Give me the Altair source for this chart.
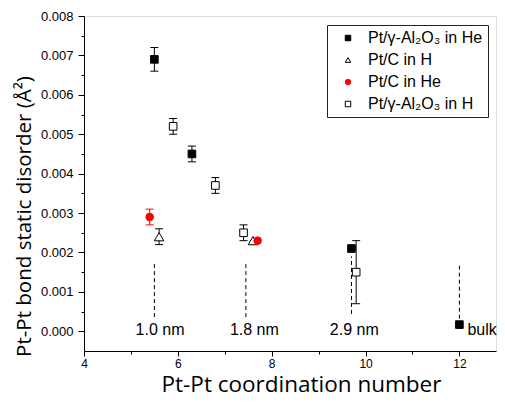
import altair as alt
import pandas as pd

# ---- data ----
S_ALU_HE = "Pt/γ-Al₂O₃ in He"
S_C_H = "Pt/C in H"
S_C_HE = "Pt/C in He"
S_ALU_H = "Pt/γ-Al₂O₃ in H"
series_order = [S_ALU_HE, S_C_H, S_C_HE, S_ALU_H]

alu_h_cn = [5.9, 6.8, 7.4, 9.8]
alu_h_sig = [0.0052, 0.0037, 0.0025, 0.0015]
alu_h_err = [0.0002, 0.0002, 0.0002, 0.0008]

c_h_cn = [5.6, 7.6]
c_h_sig = [0.0024, 0.0023]
c_h_err = [0.0002, 0.0]

c_he_cn = [5.4, 7.7]
c_he_sig = [0.0029, 0.0023]
c_he_err = [0.0002, 0.0]

alu_he_cn = [5.5, 6.3, 9.7, 12.0]
alu_he_sig = [0.0069, 0.0045, 0.0021, 0.00017]
alu_he_err = [0.0003, 0.0002, 0.0, 0.0]

# size markers (dashed guides) and labels
guide_cn = [5.5, 7.45, 9.7, 12.0]
guide_top = [0.00175, 0.00175, 0.0019, 0.0017]
guide_bottom = [0.00036, 0.00036, 0.00044, 0.00032]

label_text = ["1.0 nm", "1.8 nm", "2.9 nm", "bulk"]
label_cn = [5.62, 7.63, 9.76, 12.17]
label_sig = [-0.0001, -0.0001, -0.0001, -0.0001]
label_align = ["center", "center", "center", "left"]

x_ticks = [4, 5, 6, 7, 8, 9, 10, 11, 12]
y_ticks = [0.0, 0.0005, 0.001, 0.0015, 0.002, 0.0025, 0.003, 0.0035, 0.004,
           0.0045, 0.005, 0.0055, 0.006, 0.0065, 0.007, 0.0075, 0.008]

rows = []
for name, cns, sigs, errs in [
    (S_ALU_H, alu_h_cn, alu_h_sig, alu_h_err),
    (S_C_H, c_h_cn, c_h_sig, c_h_err),
    (S_C_HE, c_he_cn, c_he_sig, c_he_err),
    (S_ALU_HE, alu_he_cn, alu_he_sig, alu_he_err),
]:
    for c, s, e in zip(cns, sigs, errs):
        rows.append({"series": name, "cn": c, "sig": s, "err": e})
df = pd.DataFrame(rows)

guides = pd.DataFrame({"cn": guide_cn, "top": guide_top, "bottom": guide_bottom})
labels = pd.DataFrame({"text": label_text, "cn": label_cn, "sig": label_sig, "align": label_align})

# ---- axes ----
xmajor = "datum.value % 2 == 0"
ymajor = "round(datum.value * 10000) % 10 == 0"

xaxis = alt.Axis(
    title="Pt-Pt coordination number", values=x_ticks, format="d",
    labelExpr=f"{xmajor} ? datum.label : ''",
    tickSize={"condition": {"test": xmajor, "value": 5}, "value": 3},
    grid=False, domainColor="black", tickColor="black",
    labelFont="Liberation Sans", labelFontSize=12, labelColor="black",
    labelPadding=2, labelFlush=False, labelOverlap=False,
    titleFont="Open Sans", titleFontSize=22.5, titleFontWeight="normal",
    titleColor="black", titleX=217, titleY=22,
)
yaxis = alt.Axis(
    title="Pt-Pt bond static disorder (Å²)", values=y_ticks, format=".3f",
    labelExpr=f"{ymajor} ? datum.label : ''",
    tickSize={"condition": {"test": ymajor, "value": 6}, "value": 3},
    grid=False, domainColor="black", tickColor="black",
    labelFont="Liberation Sans", labelFontSize=13, labelColor="black",
    labelPadding=5, labelFlush=False, labelOverlap=False,
    titleFont="Open Sans", titleFontSize=20.5, titleFontWeight="normal",
    titleColor="black", titleX=-50, titleY=200,
)
xscale = alt.Scale(domain=[4, 12.78], nice=False, zero=False)
yscale = alt.Scale(domain=[-0.0005, 0.008], nice=False, zero=False)

def X(field):
    return alt.X(field, type="quantitative", scale=xscale, axis=xaxis)

def Y(field):
    return alt.Y(field, type="quantitative", scale=yscale, axis=yaxis)

ecolor = alt.condition(f"datum.series == '{S_C_HE}'", alt.value("red"), alt.value("black"))

err_base = (
    alt.Chart(df)
    .transform_filter("datum.err > 0")
    .transform_calculate(lo="datum.sig - datum.err", hi="datum.sig + datum.err")
)
err_rule = err_base.mark_rule(strokeWidth=1).encode(
    x=X("cn"), y=Y("lo"), y2="hi:Q", stroke=ecolor
)
cap_lo = err_base.mark_point(shape="M-1,0L1,0", size=64, filled=False, strokeWidth=1, opacity=1).encode(
    x=X("cn"), y=Y("lo"), stroke=ecolor
)
cap_hi = err_base.mark_point(shape="M-1,0L1,0", size=64, filled=False, strokeWidth=1, opacity=1).encode(
    x=X("cn"), y=Y("hi"), stroke=ecolor
)

guide_layer = alt.Chart(guides).mark_rule(strokeWidth=1, strokeDash=[4, 3], color="black").encode(
    x=X("cn"), y=Y("bottom"), y2="top:Q"
)

text_center = alt.Chart(labels).transform_filter("datum.align == 'center'").mark_text(
    font="Liberation Sans", fontSize=16, color="black", baseline="alphabetic", align="center"
).encode(x=X("cn"), y=Y("sig"), text="text:N")
text_left = alt.Chart(labels).transform_filter("datum.align == 'left'").mark_text(
    font="Liberation Sans", fontSize=16, color="black", baseline="alphabetic", align="left"
).encode(x=X("cn"), y=Y("sig"), text="text:N")

legend = alt.Legend(
    title=None, orient="none", legendX=243, legendY=9,
    strokeColor="#222", padding=5, rowPadding=6,
    labelFont="Liberation Sans", labelFontSize=16, labelColor="black",
    symbolSize=30, symbolStrokeWidth=1, symbolOffset=8, labelOffset=12,
)

point_enc = dict(
    x=X("cn"), y=Y("sig"),
    shape=alt.Shape("series:N", sort=series_order,
                    scale=alt.Scale(domain=series_order,
                                    range=["square", "triangle-up", "circle", "square"]),
                    legend=legend),
    fill=alt.Fill("series:N", sort=series_order,
                  scale=alt.Scale(domain=series_order, range=["black", "white", "red", "white"]),
                  legend=legend),
    stroke=alt.Stroke("series:N", sort=series_order,
                      scale=alt.Scale(domain=series_order, range=["black", "black", "red", "black"]),
                      legend=legend),
)

points = alt.Chart(df).transform_filter(f"datum.series != '{S_C_H}'").mark_point(
    opacity=1, strokeWidth=1, size=58
).encode(**point_enc)
triangles = alt.Chart(df).transform_filter(f"datum.series == '{S_C_H}'").mark_point(
    opacity=1, strokeWidth=1, size=90
).encode(**point_enc)

chart = alt.layer(
    guide_layer, err_rule, cap_lo, cap_hi, triangles, points, text_center, text_left
).properties(
    width=412, height=335,
    padding={"left": 76, "top": 8, "right": 1, "bottom": 41},
    autosize=alt.AutoSizeParams(type="none"),
).configure_view(stroke=None).configure(background="white")

chart.save("out.html", embed_options={"renderer": "svg", "actions": False})
